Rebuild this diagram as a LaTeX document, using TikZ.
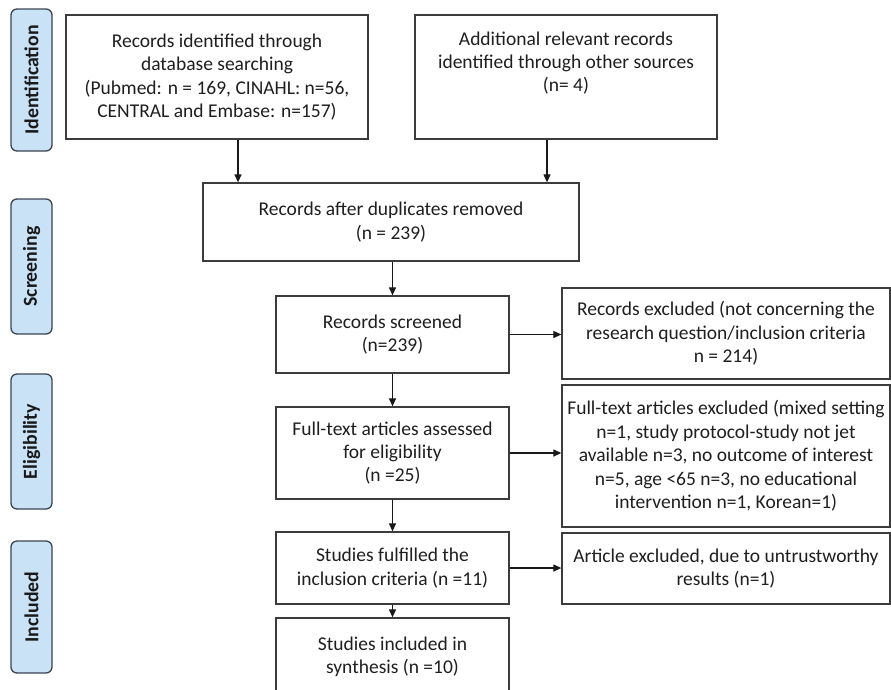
\documentclass[tikz,border=0pt]{standalone}
\usepackage{fontspec}
\setmainfont{Carlito}
\usetikzlibrary{arrows.meta}
\definecolor{lbl}{HTML}{C9E2F6}
\definecolor{edgec}{HTML}{3C3C3C}
\definecolor{lbledge}{HTML}{3A4550}
\begin{document}
\begin{tikzpicture}[x=1pt,y=-1pt,
  box/.style={draw=edgec,line width=1.3pt,fill=white,inner sep=0pt,align=center,
    font=\fontsize{19.5}{23.4}\selectfont,text=black!88},
  phase/.style={draw=lbledge,line width=1.3pt,fill=lbl,rounded corners=6pt,inner sep=0pt,
    rotate=90,font=\fontsize{19.8}{23}\selectfont\bfseries,text=black!90},
  arr/.style={draw=black!90,line width=1.2pt,-{Triangle[length=8pt,width=7pt]}}]
\useasboundingbox (0,0) rectangle (891,689);

% phase labels
\node[phase,minimum width=142pt,minimum height=41pt] (pid) at (31.5,80) {Identification};
\node[phase,minimum width=135pt,minimum height=41pt] (psc) at (31.5,266.5) {Screening};
\node[phase,minimum width=135pt,minimum height=41pt] (pel) at (31.5,441.5) {Eligibility};
\node[phase,minimum width=132pt,minimum height=41pt] (pin) at (31.5,607) {Included};

% boxes
\node[box,minimum width=302pt,minimum height=124pt] (b1) at (217,77)
  {Records identified through\\database searching\\(Pubmed: n = 169, CINAHL: n=56,\\CENTRAL and Embase: n=157)};
\node[box,minimum width=302pt,minimum height=124pt] (b2) at (566,77)
  {Additional relevant records\\identified through other sources\\(n= 4)\\\strut};
\node[box,minimum width=376pt,minimum height=78pt] (b3) at (391,222)
  {Records after duplicates removed\\(n = 239)};
\node[box,minimum width=233pt,minimum height=77pt] (scr) at (392.5,334.5)
  {Records screened\\(n=239)};
\node[box,minimum width=328pt,minimum height=91pt] (ex1) at (726,333.5)
  {Records excluded (not concerning the\\research question/inclusion criteria\\n = 214)};
\node[box,minimum width=233pt,minimum height=92pt] (ft) at (392.5,453)
  {Full-text articles assessed\\for eligibility\\(n =25)};
\node[box,minimum width=328pt,minimum height=142pt] (ex2) at (726,456)
  {Full-text articles excluded (mixed setting\\n=1, study protocol-study not jet\\available n=3, no outcome of interest\\n=5, age <65 n=3, no educational\\intervention n=1, Korean=1)};
\node[box,minimum width=233pt,minimum height=72pt] (ful) at (392.5,568)
  {Studies fulfilled the\\inclusion criteria (n =11)};
\node[box,minimum width=328pt,minimum height=71pt] (art) at (726,568.5)
  {Article excluded, due to untrustworthy\\results (n=1)};
\node[box,minimum width=233pt,minimum height=77pt] (inc) at (392.5,656.5)
  {Studies included in\\synthesis (n =10)};

% arrow anchors
\coordinate (c1) at (238,0);
\coordinate (c2) at (547,0);

% connectors
\draw[arr] (b1.south -| c1) -- (b3.north -| c1);
\draw[arr] (b2.south -| c2) -- (b3.north -| c2);
\draw[arr] (scr.north |- b3.south) -- (scr.north);
\draw[arr] (scr.south) -- (ft.north);
\draw[arr] (ft.south) -- (ful.north);
\draw[arr] (ful.south) -- (inc.north);
\draw[arr] (scr.east) -- (scr.east -| ex1.west);
\draw[arr] (ft.east) -- (ft.east -| ex2.west);
\draw[arr] (ful.east) -- (ful.east -| art.west);
\end{tikzpicture}
\end{document}
